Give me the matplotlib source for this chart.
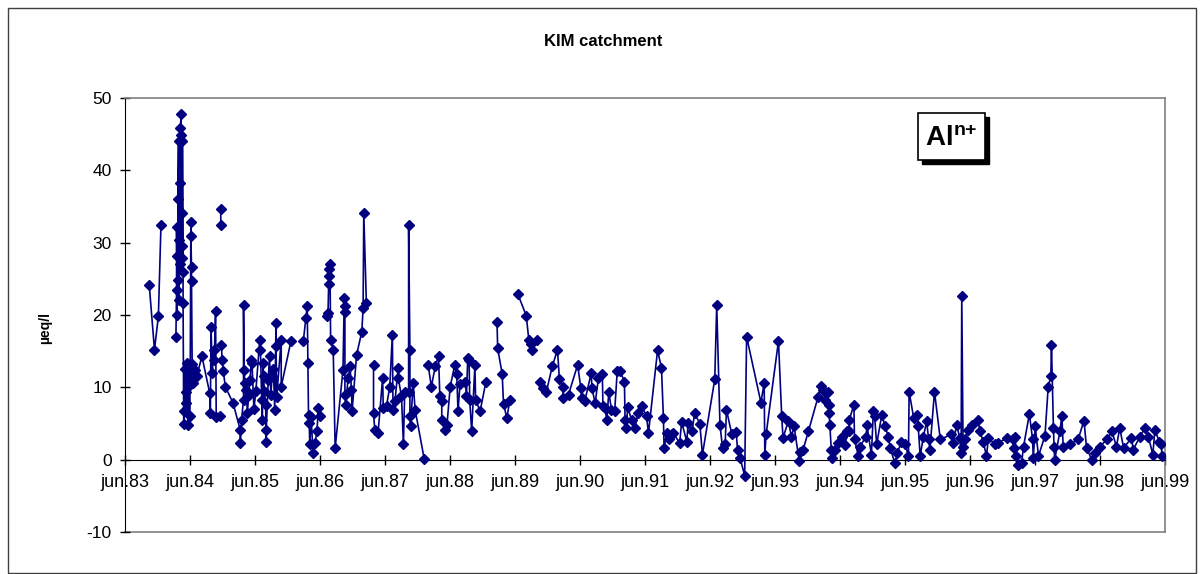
import numpy as np
import matplotlib.pyplot as plt
from matplotlib.patches import Rectangle

plt.rcParams['font.family'] = ['Liberation Sans', 'DejaVu Sans']
plt.rcParams['mathtext.fontset'] = 'custom'
plt.rcParams['mathtext.rm'] = 'Liberation Sans'
plt.rcParams['mathtext.bf'] = 'Liberation Sans:bold'

NAN = float('nan')

# (sampling date as decimal year, Al n+ in µeq/l); NAN = gap in the series
al_1983_84 = [(1983.79, 24.1), (1983.87, 15.2), (1983.93, 19.8), (1983.97, 32.4), (NAN, NAN),
              (1984.20, 17.0), (1984.21, 23.5), (1984.21, 32.1), (1984.22, 20.0), (1984.22, 28.1),
              (1984.23, 24.9), (1984.23, 36.0), (1984.24, 44.1), (1984.24, 22.1), (1984.25, 30.4),
              (1984.26, 38.3), (1984.26, 27.0), (1984.27, 45.9), (1984.28, 47.8), (1984.28, 44.9),
              (1984.29, 34.1), (1984.29, 29.5), (1984.30, 27.9), (1984.30, 44.1), (1984.31, 26.0),
              (1984.31, 21.7),
              (1984.32, 5.0), (1984.33, 6.7), (1984.34, 12.6), (1984.35, 7.9), (1984.36, 9.3),
              (1984.37, 13.4), (1984.38, 10.0), (1984.39, 4.8), (1984.40, 11.2), (1984.41, 6.0),
              (1984.42, 12.0),
              (1984.43, 32.8), (1984.43, 30.9), (1984.44, 26.7), (1984.44, 24.7), (1984.45, 13.2),
              (1984.47, 10.6), (1984.49, 12.4), (1984.52, 11.5), (1984.60, 14.3)]

al_1984_85 = [(1984.72, 9.2), (1984.73, 6.4), (1984.74, 18.4), (1984.76, 12.0), (1984.78, 15.2),
              (1984.79, 13.8), (1984.81, 20.5), (1984.82, 5.9), (1984.88, 6.0), (NAN, NAN),
              (1984.89, 34.6), (1984.89, 32.5), (NAN, NAN),
              (1984.90, 15.9), (1984.91, 13.8), (1984.93, 12.2), (1984.96, 10.1), (1985.08, 7.8),
              (1985.19, 4.1), (1985.19, 2.3), (1985.21, 5.5), (1985.24, 8.3), (1985.24, 21.4),
              (1985.25, 12.4), (1985.26, 10.6), (1985.28, 9.7), (1985.30, 6.5), (1985.32, 9.0),
              (1985.34, 11.0), (1985.36, 13.8), (1985.37, 13.4), (1985.40, 7.0), (1985.43, 9.5),
              (1985.49, 16.6), (1985.50, 15.2), (1985.52, 8.3), (1985.53, 5.5), (1985.54, 13.4),
              (1985.55, 11.5), (1985.56, 9.5), (1985.58, 7.5), (1985.59, 2.5), (1985.59, 4.1),
              (1985.62, 11.0), (1985.64, 14.3), (1985.66, 9.0), (1985.68, 11.5), (1985.70, 12.5),
              (1985.72, 6.9), (1985.74, 18.9), (1985.74, 15.7), (1985.75, 8.6), (1985.82, 16.6),
              (1985.82, 10.1), (1985.97, 16.4), (NAN, NAN)]

al_1986_87 = [(1986.16, 16.4), (1986.20, 19.6), (1986.22, 21.2), (1986.23, 13.4), (1986.24, 6.2),
              (1986.25, 5.1), (1986.26, 2.1), (1986.28, 5.9), (1986.31, 0.9), (1986.34, 2.3),
              (1986.37, 3.9), (1986.39, 7.1), (1986.42, 6.0), (NAN, NAN),
              (1986.53, 19.9), (1986.54, 20.3), (1986.55, 24.3), (1986.55, 25.4), (1986.56, 26.4),
              (1986.57, 27.0), (1986.58, 16.6), (1986.62, 15.2), (1986.65, 1.6), (1986.77, 12.4),
              (1986.79, 22.4), (1986.80, 21.3), (1986.80, 20.4), (1986.80, 9.0), (1986.81, 7.6),
              (1986.85, 11.3), (1986.88, 12.9), (1986.90, 9.7), (1986.91, 6.7), (1986.98, 14.5),
              (1987.06, 17.7), (1987.08, 21.0), (1987.09, 34.1), (1987.13, 21.7), (NAN, NAN),
              (1987.24, 13.1), (1987.24, 6.4), (1987.26, 4.1), (1987.31, 3.7), (1987.38, 11.3),
              (1987.39, 7.1), (1987.44, 7.4), (1987.49, 10.1), (1987.53, 17.3), (1987.54, 6.9),
              (1987.57, 8.1), (1987.62, 12.7), (1987.62, 11.3), (1987.67, 8.8), (1987.70, 2.1),
              (1987.72, 9.4), (1987.78, 9.4), (1987.78, 32.4), (1987.80, 15.1), (1987.80, 6.0),
              (1987.81, 4.6), (1987.85, 10.6), (1987.88, 6.9), (1988.02, 0.1), (NAN, NAN)]

al_1988_89 = [(1988.08, 13.1), (1988.13, 10.1), (1988.19, 12.9), (1988.24, 14.4), (1988.26, 8.8),
              (1988.29, 8.1), (1988.29, 5.5), (1988.34, 4.1), (1988.37, 4.8), (1988.42, 10.1),
              (1988.49, 13.1), (1988.52, 11.8), (1988.54, 6.7), (1988.57, 10.4), (1988.65, 10.8),
              (1988.67, 8.8), (1988.69, 14.1), (1988.71, 13.8), (1988.72, 8.3), (1988.75, 3.9),
              (1988.80, 13.1), (1988.81, 8.3), (1988.88, 6.7), (1988.97, 10.8), (NAN, NAN),
              (1989.14, 19.0), (1989.15, 15.4), (1989.22, 11.8), (1989.24, 7.7), (1989.29, 5.8),
              (1989.34, 8.2), (NAN, NAN),
              (1989.46, 22.9), (1989.59, 19.9), (1989.63, 16.5), (1989.66, 16.0), (1989.68, 15.2),
              (1989.75, 16.5), (NAN, NAN)]

al_1989_91 = [(1989.80, 10.8), (1989.85, 9.9), (1989.90, 9.4), (1989.99, 12.9), (1990.07, 15.2),
              (1990.10, 11.1), (1990.15, 10.1), (1990.16, 8.5), (1990.24, 9.0), (1990.38, 13.1),
              (1990.43, 9.9), (1990.44, 8.5), (1990.49, 8.1), (1990.59, 12.0), (1990.60, 9.9),
              (1990.65, 7.8), (1990.70, 11.3), (1990.76, 11.8), (1990.77, 7.4), (1990.80, 7.1),
              (1990.83, 5.5), (1990.86, 9.4), (1990.90, 6.9), (1990.95, 6.7), (1990.99, 12.3),
              (1991.03, 12.3), (1991.10, 10.8), (1991.11, 5.5), (1991.13, 4.4), (1991.15, 7.3),
              (1991.21, 5.5), (1991.26, 4.4), (1991.31, 6.4), (1991.37, 7.4), (1991.44, 6.0),
              (1991.47, 3.7)]

al_1991_93 = [(1991.61, 15.1), (1991.67, 12.7), (1991.70, 5.8), (1991.71, 1.6), (1991.75, 3.7),
              (1991.78, 2.8), (1991.83, 3.5), (1991.85, 3.7), (1991.95, 2.3), (1991.98, 5.2),
              (1992.06, 2.5), (1992.08, 5.1), (1992.14, 3.9), (1992.18, 6.4), (1992.26, 5.0),
              (1992.30, 0.7), (1992.49, 11.1), (1992.52, 21.4), (1992.57, 4.8), (1992.61, 1.6),
              (1992.65, 2.1), (1992.67, 6.9), (1992.75, 3.6), (1992.82, 3.8), (1992.84, 1.4),
              (1992.88, 0.2), (1992.95, -2.2), (1992.98, 17.0), (1993.20, 7.9), (1993.25, 10.6),
              (1993.26, 0.7), (1993.28, 3.5), (1993.47, 16.4), (1993.52, 6.0), (1993.54, 3.0),
              (1993.62, 5.3), (1993.67, 3.2), (1993.71, 4.6), (1993.79, -0.2), (1993.80, 1.1),
              (1993.85, 1.4), (1993.93, 3.9)]

al_1994_96 = [(1994.08, 8.7), (1994.13, 10.2), (1994.16, 9.7), (1994.19, 8.3), (1994.23, 9.4),
              (1994.24, 7.6), (1994.25, 6.4), (1994.26, 4.8), (1994.28, 1.4), (1994.29, 0.2),
              (1994.34, 1.4), (1994.39, 2.3), (1994.44, 3.2), (1994.50, 2.0), (1994.52, 4.0),
              (1994.55, 3.9), (1994.56, 5.5), (1994.63, 7.6), (1994.64, 2.8), (1994.70, 0.5),
              (1994.72, 1.8), (1994.82, 3.2), (1994.83, 4.8), (1994.90, 0.7), (1994.93, 6.7),
              (1994.95, 6.0), (1994.98, 2.1), (1995.06, 6.2), (1995.11, 4.6), (1995.16, 3.2),
              (1995.19, 1.6), (1995.26, -0.5), (1995.30, 0.9), (1995.36, 2.5), (1995.42, 2.1),
              (1995.47, 0.5), (1995.48, 9.4), (1995.55, 5.8), (1995.60, 6.2), (1995.62, 4.6),
              (1995.65, 0.5), (1995.70, 3.2), (1995.75, 5.3), (1995.78, 2.8), (1995.80, 1.4),
              (1995.87, 9.4), (1995.96, 2.8), (1996.13, 3.5), (1996.16, 2.3), (1996.21, 4.8),
              (1996.26, 3.0), (1996.28, 0.9), (1996.29, 22.6), (1996.31, 1.8), (1996.34, 2.8),
              (1996.39, 4.1), (1996.44, 4.8), (1996.54, 5.5), (1996.57, 3.9)]

al_1996_99 = [(1996.62, 2.5), (1996.67, 0.5), (1996.70, 3.0), (1996.80, 2.1), (1996.85, 2.3),
              (1996.98, 3.0), (1997.08, 2.8), (1997.09, 1.6), (1997.11, 3.2), (1997.13, 0.5),
              (1997.16, -0.7), (1997.21, -0.5), (1997.24, 1.8), (1997.33, 6.3), (1997.38, 2.8),
              (1997.39, 0.2), (1997.42, 4.6), (1997.47, 0.5), (1997.57, 3.3), (1997.62, 10.1),
              (1997.66, 11.5), (1997.67, 15.9), (1997.70, 4.4), (1997.71, 1.8), (1997.72, 0.0),
              (1997.80, 3.9), (1997.83, 6.1), (1997.85, 1.8), (1997.95, 2.1), (1998.08, 2.8),
              (1998.17, 5.4), (1998.21, 1.6), (1998.29, 0.0), (1998.34, 0.9), (1998.42, 1.8),
              (1998.52, 2.8), (1998.60, 3.9), (1998.67, 1.8), (1998.72, 4.4), (1998.78, 1.6),
              (1998.90, 3.0), (1998.93, 1.4), (1999.03, 3.2), (1999.11, 4.4), (1999.16, 3.2),
              (1999.23, 0.7), (1999.26, 4.1), (1999.33, 2.5), (1999.36, 2.1), (1999.37, 0.5)]

tick_years = list(range(83, 100))
tick_labels = ['jun.%02d' % y for y in tick_years]
y_ticks = [-10, 0, 10, 20, 30, 40, 50]

series = np.array(al_1983_84 + al_1984_85 + al_1986_87 + al_1988_89 +
                  al_1989_91 + al_1991_93 + al_1994_96 + al_1996_99)
t, al = series[:, 0], series[:, 1]

NAVY = '#000080'
GREY = '#808080'

fig = plt.figure(figsize=(12.04, 5.74), dpi=100)
ax = fig.add_axes([125 / 1204, 1 - 532 / 574, 1040 / 1204, 434 / 574])

# x axis sits on the zero line, plot-area border below it is grey
# (set spine position first: it resets the tick labels)
ax.spines['bottom'].set_position(('data', 0))
ax.spines['bottom'].set_color('black')
ax.spines['left'].set_color('black')
for s in ['top', 'right']:
    ax.spines[s].set_color(GREY)
    ax.spines[s].set_linewidth(1.2)
ax.axhline(-10, color=GREY, lw=1.2, clip_on=False, zorder=1)

ax.plot(t, al, color=NAVY, lw=1.2, marker='D', ms=5.4, mfc=NAVY, mec=NAVY, zorder=3)

jun = [1900 + y + 5 / 12 for y in tick_years]
ax.set_xlim(jun[0], jun[-1])
ax.set_ylim(-10, 50)
ax.set_xticks(jun)
ax.set_xticklabels(tick_labels)
ax.set_yticks(y_ticks)
ax.set_yticklabels([str(v) for v in y_ticks])

ax.tick_params(axis='x', direction='inout', length=7, pad=7, width=1, labelsize=13)
ax.tick_params(axis='y', direction='inout', length=7, pad=6, width=1, labelsize=12.5)

fig.text(603 / 1204, 1 - 42 / 574, 'KIM catchment', fontsize=12, fontweight='bold',
         ha='center', va='center')
fig.text(45 / 1204, 1 - 328 / 574, 'µeq/l', fontsize=10, fontweight='bold',
         rotation=90, ha='center', va='center')

# Al n+ label box with drop shadow
bx0, bx1 = 918 / 1204, 985 / 1204
by0, by1 = 1 - 160 / 574, 1 - 113 / 574
fig.patches.append(Rectangle((bx0 + 4 / 1204, by0 - 4 / 574), bx1 - bx0, by1 - by0,
                             transform=fig.transFigure, facecolor='black',
                             edgecolor='black', zorder=5))
fig.patches.append(Rectangle((bx0, by0), bx1 - bx0, by1 - by0,
                             transform=fig.transFigure, facecolor='white',
                             edgecolor='black', lw=1.2, zorder=6))
fig.text((bx0 + bx1) / 2, (by0 + by1) / 2 - 0.004, r'$\mathbf{Al^{n{+}}}$', fontsize=20,
         ha='center', va='center', zorder=7)

# outer chart frame
fig.patches.append(Rectangle((8 / 1204, 1 / 574), 1188 / 1204, 565 / 574,
                             transform=fig.transFigure, fill=False,
                             edgecolor='#404040', lw=1))

fig.savefig('out.png', dpi=100)
